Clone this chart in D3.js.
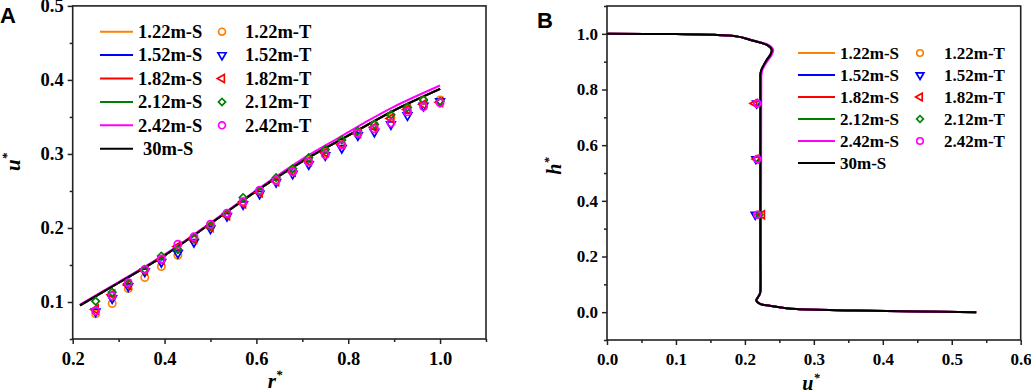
<!DOCTYPE html>
<html>
<head>
<meta charset="utf-8">
<script src="https://cdn.jsdelivr.net/npm/d3@7"></script>
<style>
body { margin: 0; background: white; }
svg text { font-family: "Liberation Serif", "Times New Roman", Times, "DejaVu Serif", serif; font-weight: bold; fill: black; }
svg text.panel { font-family: "Liberation Sans", Arial, sans-serif; }
</style>
</head>
<body>
<div id="container"></div>
<script>
// series names and colours
let heights = ["1.22m", "1.52m", "1.82m", "2.12m", "2.42m"];
let colors = ["#ff8000", "#0000ff", "#ff0000", "#008000", "#ff00ff"];

// panel A - simulated lines (r*, u*)
let lineR = [0.216, 0.3, 0.4, 0.5, 0.6, 0.7, 0.78, 0.835, 0.9, 1.0];
let uS30 = [0.0955, 0.126, 0.163, 0.206, 0.250, 0.290, 0.318, 0.337, 0.359, 0.388];
let uS242 = [0.0965, 0.127, 0.164, 0.207, 0.251, 0.293, 0.322, 0.342, 0.364, 0.3925];

// panel A - test points
let rT = [0.25, 0.286, 0.321, 0.357, 0.393, 0.429, 0.464, 0.5, 0.536, 0.571, 0.607,
          0.643, 0.679, 0.714, 0.75, 0.786, 0.821, 0.857, 0.893, 0.929, 0.964, 1.0];
let uT122 = [0.084, 0.098, 0.118, 0.133, 0.148, 0.163, 0.184, 0.202, 0.218, 0.236, 0.249,
             0.265, 0.278, 0.291, 0.302, 0.313, 0.327, 0.339, 0.349, 0.360, 0.372, 0.373];
let uT152 = [0.087, 0.105, 0.121, 0.141, 0.154, 0.166, 0.181, 0.199, 0.216, 0.232, 0.246,
             0.262, 0.273, 0.286, 0.298, 0.308, 0.325, 0.330, 0.340, 0.352, 0.365, 0.371];
let uT182 = [0.090, 0.110, 0.123, 0.143, 0.157, 0.175, 0.185, 0.201, 0.217, 0.233, 0.248,
             0.263, 0.276, 0.290, 0.302, 0.313, 0.328, 0.336, 0.348, 0.360, 0.367, 0.370];
let uT212 = [0.101, 0.113, 0.125, 0.144, 0.162, 0.171, 0.186, 0.203, 0.219, 0.241, 0.250,
             0.268, 0.280, 0.295, 0.306, 0.319, 0.331, 0.340, 0.353, 0.363, 0.373, 0.371];
let uT242 = [0.088, 0.108, 0.126, 0.144, 0.158, 0.178, 0.188, 0.205, 0.220, 0.235, 0.251,
             0.264, 0.276, 0.289, 0.299, 0.312, 0.328, 0.334, 0.342, 0.357, 0.364, 0.369];

// panel B - simulated profiles (u*, h*)
let profH = [1.0, 0.999, 0.997, 0.99, 0.979, 0.96, 0.943, 0.925, 0.907, 0.871, 0.853, 0.84,
             0.5, 0.2, 0.1, 0.068, 0.05, 0.042, 0.03, 0.023, 0.016, 0.011, 0.006, 0.002, 0.0];
let profU30 = [0.0, 0.1, 0.15, 0.19, 0.207, 0.232, 0.239, 0.237, 0.232, 0.224, 0.2225, 0.2225,
               0.2225, 0.2225, 0.2227, 0.222, 0.218, 0.2165, 0.222, 0.236, 0.255, 0.275, 0.358, 0.454, 0.5355];
let profU242 = [0.0, 0.1, 0.15, 0.19, 0.208, 0.234, 0.241, 0.239, 0.234, 0.2255, 0.224, 0.2238,
                0.2235, 0.2232, 0.2232, 0.222, 0.218, 0.2165, 0.222, 0.236, 0.255, 0.275, 0.358, 0.454, 0.5355];

// panel B - test points
let hT = [0.75, 0.55, 0.35];
let uBT122 = [0.218, 0.218, 0.219];
let uBT152 = [0.217, 0.216, 0.215];
let uBT182 = [0.214, 0.217, 0.225];
let uBT212 = [0.218, 0.218, 0.221];
let uBT242 = [0.218, 0.218, 0.218];

let linesA = [uS30, uS30, uS30, uS30, uS242];
let pointsA = [uT122, uT152, uT182, uT212, uT242];
let linesB = [profU30, profU30, profU30, profU30, profU242];
let pointsB = [uBT122, uBT152, uBT182, uBT212, uBT242];

let w = 1031;
let h = 392;

let viz = d3.select("#container")
  .append("svg")
    .attr("width", w)
    .attr("height", h)
    .style("background-color", "white")
;

let markers = [
  {type: d3.symbolCircle, size: 42, rot: 0},
  {type: d3.symbolTriangle, size: 32, rot: 180},
  {type: d3.symbolTriangle, size: 32, rot: -90},
  {type: d3.symbolSquare, size: 28, rot: 45},
  {type: d3.symbolCircle, size: 42, rot: 0}
];

function markerPath(i, k){
  return d3.symbol().type(markers[i].type).size(markers[i].size * k)();
}

function drawAxes(x, y, xMajor, xMinor, yMajor, yMinor, fs){
  let fmt = d3.format(".1f");
  let xl = x.range()[0], xr = x.range()[1];
  let yb = y.range()[0], yt = y.range()[1];
  let axes = viz.append("g");

  axes.append("g").attr("transform", "translate(0," + yb + ")")
    .call(d3.axisBottom(x).tickValues(xMinor).tickSize(3).tickFormat(""));
  axes.append("g").attr("transform", "translate(0," + yb + ")")
    .call(d3.axisBottom(x).tickValues(xMajor).tickSize(5).tickPadding(8).tickFormat(fmt));
  axes.append("g").attr("transform", "translate(" + xl + ",0)")
    .call(d3.axisLeft(y).tickValues(yMinor).tickSize(3).tickFormat(""));
  axes.append("g").attr("transform", "translate(" + xl + ",0)")
    .call(d3.axisLeft(y).tickValues(yMajor).tickSize(5).tickPadding(4).tickFormat(fmt));

  axes.selectAll("g").attr("font-family", null).attr("font-size", null);
  axes.selectAll(".domain").remove();
  axes.selectAll(".tick line").attr("stroke", "#222").attr("stroke-width", 1.5);
  axes.selectAll(".tick text")
    .style("font-size", fs + "px")
    .attr("fill", "black");

  viz.append("rect")
    .attr("x", xl).attr("y", yt)
    .attr("width", xr - xl).attr("height", yb - yt)
    .attr("fill", "none")
    .attr("stroke", "#222")
    .attr("stroke-width", 1.6);
}

function axisTitle(letter, tx, ty, rot, fs){
  let t = viz.append("text")
    .attr("text-anchor", "middle")
    .attr("transform", "translate(" + tx + "," + ty + ") rotate(" + rot + ")")
    .style("font-size", fs + "px")
    .style("font-style", "italic");
  t.append("tspan").text(letter);
  t.append("tspan").text("*").style("font-size", (fs * 0.62) + "px").attr("dy", -fs * 0.42);
}

function drawLegend(lineX0, lineX1, textX, markX, textTX, rowY, dy, fs, k, indent30){
  let lg = viz.append("g");
  let rows = heights.map(function(d, i){ return i; });
  rows.forEach(function(i){
    let yy = rowY + i * dy;
    lg.append("line").attr("x1", lineX0).attr("x2", lineX1).attr("y1", yy).attr("y2", yy)
      .attr("stroke", colors[i]).attr("stroke-width", 2);
    lg.append("text").attr("x", textX).attr("y", yy).attr("dy", "0.34em")
      .style("font-size", fs + "px").text(heights[i] + "-S");
    lg.append("path").attr("d", markerPath(i, k))
      .attr("transform", "translate(" + markX + "," + yy + ") rotate(" + markers[i].rot + ")")
      .attr("fill", "none").attr("stroke", colors[i]).attr("stroke-width", 1.7);
    lg.append("text").attr("x", textTX).attr("y", yy).attr("dy", "0.34em")
      .style("font-size", fs + "px").text(heights[i] + "-T");
  });
  let y30 = rowY + 5 * dy;
  lg.append("line").attr("x1", lineX0).attr("x2", lineX1).attr("y1", y30).attr("y2", y30)
    .attr("stroke", "black").attr("stroke-width", 2);
  lg.append("text").attr("x", textX + indent30).attr("y", y30).attr("dy", "0.34em")
    .style("font-size", fs + "px").text("30m-S");
}

// ---------- panel A ----------
let xA = d3.scaleLinear().domain([0.2, 1.1]).range([72.7, 486]);
let yA = d3.scaleLinear().domain([0.05, 0.5]).range([339, 5.9]);

drawAxes(xA, yA, [0.2, 0.4, 0.6, 0.8, 1.0], [0.3, 0.5, 0.7, 0.9, 1.1],
  [0.1, 0.2, 0.3, 0.4, 0.5], [0.05, 0.15, 0.25, 0.35, 0.45], 18.5);

let lineAGen = d3.line()
  .x(function(d){ return xA(d[0]); })
  .y(function(d){ return yA(d[1]); })
  .curve(d3.curveCatmullRom);

linesA.forEach(function(vals, i){
  viz.append("path")
    .attr("d", lineAGen(lineR.map(function(r, j){ return [r, vals[j]]; })))
    .attr("fill", "none").attr("stroke", colors[i]).attr("stroke-width", 2);
});
viz.append("path")
  .attr("d", lineAGen(lineR.map(function(r, j){ return [r, uS30[j]]; })))
  .attr("fill", "none").attr("stroke", "black").attr("stroke-width", 2);

pointsA.forEach(function(vals, i){
  viz.append("g").selectAll("path").data(vals).enter().append("path")
    .attr("d", markerPath(i, 1))
    .attr("transform", function(d, j){
      return "translate(" + xA(rT[j]) + "," + yA(d) + ") rotate(" + markers[i].rot + ")";
    })
    .attr("fill", "none").attr("stroke", colors[i]).attr("stroke-width", 1.7);
});

drawLegend(100, 133, 138, 222, 245, 31.7, 23.4, 18.5, 0.9, 5);
axisTitle("r", 275, 388, 0, 21);
axisTitle("u", 20, 162, -90, 21);

viz.append("text").attr("class", "panel").attr("x", 0).attr("y", 23)
  .style("font-size", "22px").text("A");

// ---------- panel B ----------
let xB = d3.scaleLinear().domain([0, 0.6]).range([607, 1020.7]);
let yB = d3.scaleLinear().domain([-0.1, 1.1]).range([340, 6]);

drawAxes(xB, yB, [0, 0.1, 0.2, 0.3, 0.4, 0.5, 0.6], [0.05, 0.15, 0.25, 0.35, 0.45, 0.55],
  [0, 0.2, 0.4, 0.6, 0.8, 1.0], [-0.1, 0.1, 0.3, 0.5, 0.7, 0.9, 1.1], 17);

let lineBGen = d3.line()
  .x(function(d){ return xB(d[0]); })
  .y(function(d){ return yB(d[1]); })
  .curve(d3.curveCatmullRom);

linesB.forEach(function(vals, i){
  viz.append("path")
    .attr("d", lineBGen(profH.map(function(hh, j){ return [vals[j], hh]; })))
    .attr("fill", "none").attr("stroke", colors[i]).attr("stroke-width", 2);
});
viz.append("path")
  .attr("d", lineBGen(profH.map(function(hh, j){ return [profU30[j], hh]; })))
  .attr("fill", "none").attr("stroke", "black").attr("stroke-width", 2);

pointsB.forEach(function(vals, i){
  viz.append("g").selectAll("path").data(vals).enter().append("path")
    .attr("d", markerPath(i, 0.85))
    .attr("transform", function(d, j){
      return "translate(" + xB(d) + "," + yB(hT[j]) + ") rotate(" + markers[i].rot + ")";
    })
    .attr("fill", "none").attr("stroke", colors[i]).attr("stroke-width", 1.7);
});

drawLegend(798, 835, 840, 920, 944, 53, 22, 17, 0.8, 0);
axisTitle("u", 811, 390, 0, 20);
axisTitle("h", 561, 166, -90, 20);

viz.append("text").attr("class", "panel").attr("x", 537).attr("y", 28)
  .style("font-size", "22px").text("B");
</script>
</body>
</html>
